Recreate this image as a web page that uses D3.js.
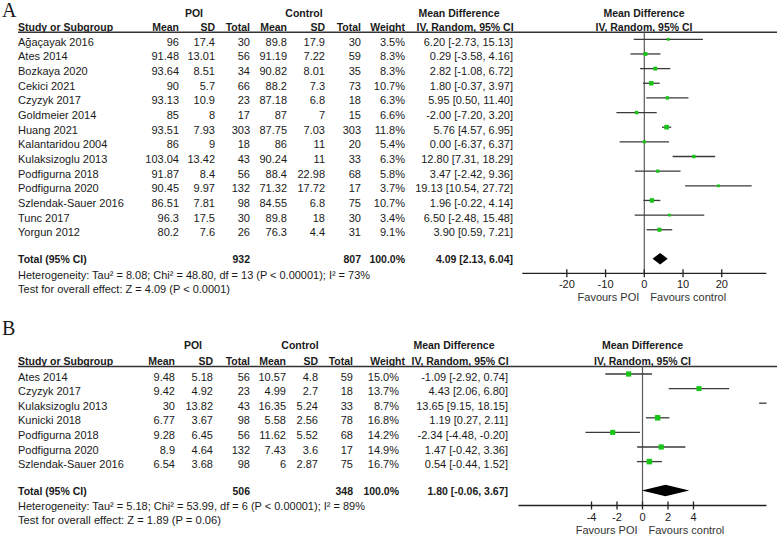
<!DOCTYPE html>
<html><head><meta charset="utf-8">
<script src="https://cdn.jsdelivr.net/npm/d3@7/dist/d3.min.js"></script>
<style>
html,body{margin:0;padding:0;background:#fff;}
text{font-family:"Liberation Sans",Arial,sans-serif;font-size:11px;fill:#1a1a1a;}
.b{font-weight:bold;font-size:10.5px;}
.lab{font-family:"Liberation Serif","DejaVu Serif",serif;font-size:20px;}
</style></head>
<body>
<svg id="c" width="777" height="535"></svg>
<script>
// ---------- Panel A data ----------
const studiesA = ["Ağaçayak 2016","Ates 2014","Bozkaya 2020","Cekici 2021","Czyzyk 2017","Goldmeier 2014","Huang 2021","Kalantaridou 2004","Kulaksizoglu 2013","Podfigurna 2018","Podfigurna 2020","Szlendak-Sauer 2016","Tunc 2017","Yorgun 2012"];
const poiMeanA = [96,91.48,93.64,90,93.13,85,93.51,86,103.04,91.87,90.45,86.51,96.3,80.2];
const poiSdA = [17.4,13.01,8.51,5.7,10.9,8,7.93,9,13.42,8.4,9.97,7.81,17.5,7.6];
const poiNA = [30,56,34,66,23,17,303,18,43,56,132,98,30,26];
const ctrlMeanA = [89.8,91.19,90.82,88.2,87.18,87,87.75,86,90.24,88.4,71.32,84.55,89.8,76.3];
const ctrlSdA = [17.9,7.22,8.01,7.3,6.8,7,7.03,11,11,22.98,17.72,6.8,18,4.4];
const ctrlNA = [30,59,35,73,18,15,303,20,33,68,17,75,30,31];
const weightA = [3.5,8.3,8.3,10.7,6.3,6.6,11.8,5.4,6.3,5.8,3.7,10.7,3.4,9.1];
const mdA = [6.20,0.29,2.82,1.80,5.95,-2.00,5.76,0.00,12.80,3.47,19.13,1.96,6.50,3.90];
const loA = [-2.73,-3.58,-1.08,-0.37,0.50,-7.20,4.57,-6.37,7.31,-2.42,10.54,-0.22,-2.48,0.59];
const hiA = [15.13,4.16,6.72,3.97,11.40,3.20,6.95,6.37,18.29,9.36,27.72,4.14,15.48,7.21];
const totalA = {poiN:932, ctrlN:807, weight:100.0, md:4.09, lo:2.13, hi:6.04};
const hetA = "Heterogeneity: Tau² = 8.08; Chi² = 48.80, df = 13 (P < 0.00001); I² = 73%";
const testA = "Test for overall effect: Z = 4.09 (P < 0.0001)";
const ticksA = [-20,-10,0,10,20];

// ---------- Panel B data ----------
const studiesB = ["Ates 2014","Czyzyk 2017","Kulaksizoglu 2013","Kunicki 2018","Podfigurna 2018","Podfigurna 2020","Szlendak-Sauer 2016"];
const poiMeanB = [9.48,9.42,30,6.77,9.28,8.9,6.54];
const poiSdB = [5.18,4.92,13.82,3.67,6.45,4.64,3.68];
const poiNB = [56,23,43,98,56,132,98];
const ctrlMeanB = [10.57,4.99,16.35,5.58,11.62,7.43,6];
const ctrlSdB = [4.8,2.7,5.24,2.56,5.52,3.6,2.87];
const ctrlNB = [59,18,33,78,68,17,75];
const weightB = [15.0,13.7,8.7,16.8,14.2,14.9,16.7];
const mdB = [-1.09,4.43,13.65,1.19,-2.34,1.47,0.54];
const loB = [-2.92,2.06,9.15,0.27,-4.48,-0.42,-0.44];
const hiB = [0.74,6.80,18.15,2.11,-0.20,3.36,1.52];
const totalB = {poiN:506, ctrlN:348, weight:100.0, md:1.80, lo:-0.06, hi:3.67};
const hetB = "Heterogeneity: Tau² = 5.18; Chi² = 53.99, df = 6 (P < 0.00001); I² = 89%";
const testB = "Test for overall effect: Z = 1.89 (P = 0.06)";
const ticksB = [-4,-2,0,2,4];

const svg = d3.select("#c");
const hy = s => s.replace(/\u2212/g,"-");
const f2 = v => hy(d3.format(".2f")(v)), f1 = v => hy(d3.format(".1f")(v));
const green = "#19c419";

function panel(o){
  const g = svg.append("g");
  const c = o.cols;
  g.append("text").attr("class","lab").attr("x",2).attr("y",o.labY).text(o.label);
  const h1 = o.headY1, h2 = o.headY2;
  g.append("text").attr("class","b").attr("x",c.poi).attr("y",h1).attr("text-anchor","middle").text("POI");
  g.append("text").attr("class","b").attr("x",c.ctrl).attr("y",h1).attr("text-anchor","middle").text("Control");
  g.append("text").attr("class","b").attr("x",c.mdh).attr("y",h1).attr("text-anchor","middle").text("Mean Difference");
  g.append("text").attr("class","b").attr("x",o.fc).attr("y",h1).attr("text-anchor","middle").text("Mean Difference");
  g.append("text").attr("class","b").attr("x",18).attr("y",h2).text("Study or Subgroup");
  [["Mean",c.m1],["SD",c.s1],["Total",c.n1],["Mean",c.m2],["SD",c.s2],["Total",c.n2],["Weight",c.wh]].forEach(([t,x])=>{
    g.append("text").attr("class","b").attr("x",x).attr("y",h2).attr("text-anchor","end").text(t);
  });
  g.append("text").attr("class","b").attr("x",c.ivs).attr("y",h2).text("IV, Random, 95% CI");
  g.append("text").attr("class","b").attr("x",o.fc).attr("y",h2).attr("text-anchor","middle").text("IV, Random, 95% CI");
  g.append("line").attr("x1",18).attr("x2",777).attr("y1",o.lineY).attr("y2",o.lineY).attr("stroke","#333").attr("stroke-width",1.4);

  const x = d3.scaleLinear().domain(o.domain).range(o.xr);
  const y = d3.scalePoint().domain(o.studies).range(o.yr);

  const rows = o.studies.map((s,i)=>({s, m1:o.m1[i], s1:o.s1[i], n1:o.n1[i], m2:o.m2[i], s2:o.s2[i], n2:o.n2[i], w:o.w[i], md:o.md[i], lo:o.lo[i], hi:o.hi[i]}));

  g.append("line").attr("x1",x(0)).attr("x2",x(0)).attr("y1",o.lineY).attr("y2",o.axisY).attr("stroke","#5a5a5a").attr("stroke-width",1.2);

  const rg = g.selectAll("g.row").data(rows).join("g").attr("class","row");
  const ty = d => y(d.s)+6.5;
  rg.append("text").attr("x",18).attr("y",ty).text(d=>d.s);
  [["m1",c.m1],["s1",c.s1],["n1",c.n1],["m2",c.m2],["s2",c.s2],["n2",c.n2]].forEach(([k,xx])=>{
    rg.append("text").attr("x",xx).attr("y",ty).attr("text-anchor","end").text(d=>String(d[k]));
  });
  rg.append("text").attr("x",c.w).attr("y",ty).attr("text-anchor","end").text(d=>f1(d.w)+"%");
  rg.append("text").attr("x",c.ci).attr("y",ty).attr("text-anchor","end").text(d=>`${f2(d.md)} [${f2(d.lo)}, ${f2(d.hi)}]`);

  const [d0,d1] = o.domain;
  const inR = rows.filter(d=>d.lo < d1 && d.hi > d0);
  const outR = rows.filter(d=>d.lo >= d1);
  g.selectAll("line.ci").data(inR).join("line").attr("class","ci")
    .attr("x1",d=>x(Math.max(d.lo,d0))).attr("x2",d=>x(Math.min(d.hi,d1)))
    .attr("y1",d=>y(d.s)).attr("y2",d=>y(d.s)).attr("stroke","#3a3a3a").attr("stroke-width",1.3);
  const side = d => Math.max(2.8, 1.35*Math.sqrt(d.w));
  g.selectAll("rect.sq").data(inR.filter(d=>d.md>d0&&d.md<d1)).join("rect").attr("class","sq")
    .attr("x",d=>x(d.md)-side(d)/2).attr("y",d=>y(d.s)-side(d)/2)
    .attr("width",side).attr("height",side).attr("fill",green);
  g.selectAll("path.arr").data(outR).join("path").attr("class","arr")
    .attr("d",d=>{const xe=x(d1)-1, yy=y(d.s)+0.5; return `M${xe},${yy} L${xe-7},${yy-4} L${xe-5},${yy} L${xe-7},${yy+4} Z M${xe-8.5},${yy-0.8} L${xe-4},${yy-0.8} L${xe-4},${yy+0.8} L${xe-8.5},${yy+0.8} Z`;})
    .attr("fill","#111").attr("stroke","#111").attr("stroke-width",0.6);

  const T = o.total;
  const tb = o.totY+4.5;
  g.append("text").attr("class","b").attr("x",18).attr("y",tb).text("Total (95% CI)");
  g.append("text").attr("class","b").attr("x",c.n1).attr("y",tb).attr("text-anchor","end").text(T.poiN);
  g.append("text").attr("class","b").attr("x",c.n2).attr("y",tb).attr("text-anchor","end").text(T.ctrlN);
  g.append("text").attr("class","b").attr("x",c.w).attr("y",tb).attr("text-anchor","end").text(f1(T.weight)+"%");
  g.append("text").attr("class","b").attr("x",c.ci).attr("y",tb).attr("text-anchor","end").text(`${f2(T.md)} [${f2(T.lo)}, ${f2(T.hi)}]`);
  const dh = 5.8;
  g.append("path").attr("d",`M${x(T.lo)},${o.totY} L${x(T.md)},${o.totY-dh} L${x(T.hi)},${o.totY} L${x(T.md)},${o.totY+dh} Z`).attr("fill","#000");
  g.append("text").attr("x",18).attr("y",o.hetY).attr("textLength",o.hetW).attr("lengthAdjust","spacingAndGlyphs").text(o.het);
  g.append("text").attr("x",18).attr("y",o.testY).attr("textLength",o.testW).attr("lengthAdjust","spacingAndGlyphs").text(o.test);

  const ax = g.append("g");
  ax.append("line").attr("x1",o.xr[0]).attr("x2",o.xr[1]).attr("y1",o.axisY).attr("y2",o.axisY).attr("stroke","#222").attr("stroke-width",1.3);
  ax.selectAll("line.tk").data(o.ticks).join("line").attr("class","tk")
    .attr("x1",d=>x(d)).attr("x2",d=>x(d)).attr("y1",o.axisY-4).attr("y2",o.axisY+4).attr("stroke","#222").attr("stroke-width",1.3);
  ax.selectAll("text.tl").data(o.ticks).join("text").attr("class","tl")
    .attr("x",d=>x(d)).attr("y",o.axisY+15).attr("text-anchor","middle").text(d=>String(d));
  ax.append("text").attr("x",x(0)-5).attr("y",o.axisY+28).attr("text-anchor","end").style("fill","#333").text("Favours POI");
  ax.append("text").attr("x",x(0)+6).attr("y",o.axisY+28).style("fill","#333").text("Favours control");
}

panel({
  label:"A", labY:17, headY1:16.5, headY2:30.5, lineY:32.3,
  cols:{poi:194, ctrl:304, mdh:459, m1:179, s1:215, n1:250, m2:287, s2:325, n2:361, wh:405, w:405, ci:513, ivs:416.5},
  fc:644,
  studies:studiesA, m1:poiMeanA, s1:poiSdA, n1:poiNA, m2:ctrlMeanA, s2:ctrlSdA, n2:ctrlNA, w:weightA, md:mdA, lo:loA, hi:hiA,
  domain:[-31.5,31.5], xr:[522.3,766.3], yr:[39.3, 39.3+13*14.65],
  total:totalA, totY:258.7, hetY:279, testY:293.3, het:hetA, test:testA, hetW:352, testW:212,
  axisY:273.3, ticks:ticksA
});
panel({
  label:"B", labY:335, headY1:349, headY2:364.5, lineY:366.5,
  cols:{poi:193, ctrl:300, mdh:454, m1:175, s1:213, n1:250, m2:286, s2:318, n2:353, wh:405, w:399, ci:508, ivs:411.5},
  fc:642.5,
  studies:studiesB, m1:poiMeanB, s1:poiSdB, n1:poiNB, m2:ctrlMeanB, s2:ctrlSdB, n2:ctrlNB, w:weightB, md:mdB, lo:loB, hi:hiB,
  domain:[-9.73,9.73], xr:[518.5,766.5], yr:[374, 374+6*14.6],
  total:totalB, totY:490.5, hetY:510, testY:524, het:hetB, test:testB, hetW:347, testW:203,
  axisY:505.5, ticks:ticksB
});
</script>
</body></html>
